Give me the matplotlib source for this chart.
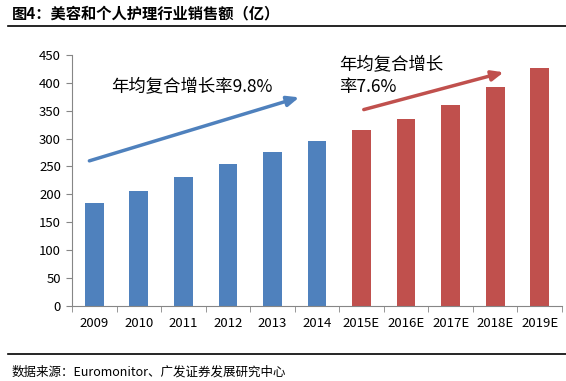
import matplotlib.pyplot as plt
import numpy as np
from matplotlib.lines import Line2D

plt.rcParams['font.family'] = ['Noto Sans CJK SC', 'DejaVu Sans']

anos = ["2009", "2010", "2011", "2012", "2013", "2014",
        "2015E", "2016E", "2017E", "2018E", "2019E"]
vendas = [185, 206, 231, 254, 276, 296, 315, 336, 361, 392, 426]
n_hist = 6

titulo = "图4：美容和个人护理行业销售额（亿）"
fonte = "数据来源：Euromonitor、广发证券发展研究中心"
txt_azul = "年均复合增长率9.8%"
txt_verm = "年均复合增长\n率7.6%"

AZUL = "#4F81BD"
VERM = "#C0504D"

fig = plt.figure(figsize=(5.66, 3.81), dpi=100)
ax = fig.add_axes([72 / 566, 75.3 / 381, 490 / 566, 250.7 / 381])

x = np.arange(len(anos))
cores = [AZUL] * n_hist + [VERM] * (len(anos) - n_hist)
ax.bar(x, vendas, width=0.42, color=cores)

ax.set_xlim(-0.5, len(anos) - 0.5)
ax.set_ylim(0, 450)
ax.set_yticks(np.arange(0, 451, 50))
ax.set_xticks(x)
ax.set_xticklabels(anos)
ax.set_xticks(np.arange(-0.5, len(anos), 1), minor=True)
ax.tick_params(axis="x", which="major", length=0, pad=8, labelsize=9.5)
ax.tick_params(axis="x", which="minor", length=4, color="#868686")
ax.tick_params(axis="y", length=4, color="#868686", labelsize=9.5, pad=4)
for lado in ["top", "right"]:
    ax.spines[lado].set_visible(False)
for lado in ["left", "bottom"]:
    ax.spines[lado].set_color("#868686")

ax.annotate("", xy=(4.6, 374), xytext=(-0.11, 260),
            arrowprops=dict(arrowstyle="-|>,head_length=0.7,head_width=0.3",
                            color=AZUL, lw=2.5, shrinkA=0, shrinkB=0))
ax.annotate("", xy=(9.19, 419), xytext=(6.05, 352),
            arrowprops=dict(arrowstyle="-|>,head_length=0.7,head_width=0.3",
                            color=VERM, lw=2.5, shrinkA=0, shrinkB=0))
ax.text(0.38, 393, txt_azul, fontsize=12.5, va="center", ha="left")
ax.text(5.5, 412, txt_verm, fontsize=12.5, va="center", ha="left",
        linespacing=1.25)

fig.text(12 / 566, 1 - 13 / 381, titulo, fontsize=11, fontweight="bold",
         va="center", ha="left")
fig.add_artist(Line2D([8 / 566, 1], [1 - 26 / 381] * 2, color="black", lw=1.2))
fig.add_artist(Line2D([8 / 566, 1], [1 - 354 / 381] * 2, color="black", lw=1.2))
fig.text(12 / 566, 1 - 372 / 381, fonte, fontsize=9, va="center", ha="left")

fig.savefig("out.png", dpi=100)
